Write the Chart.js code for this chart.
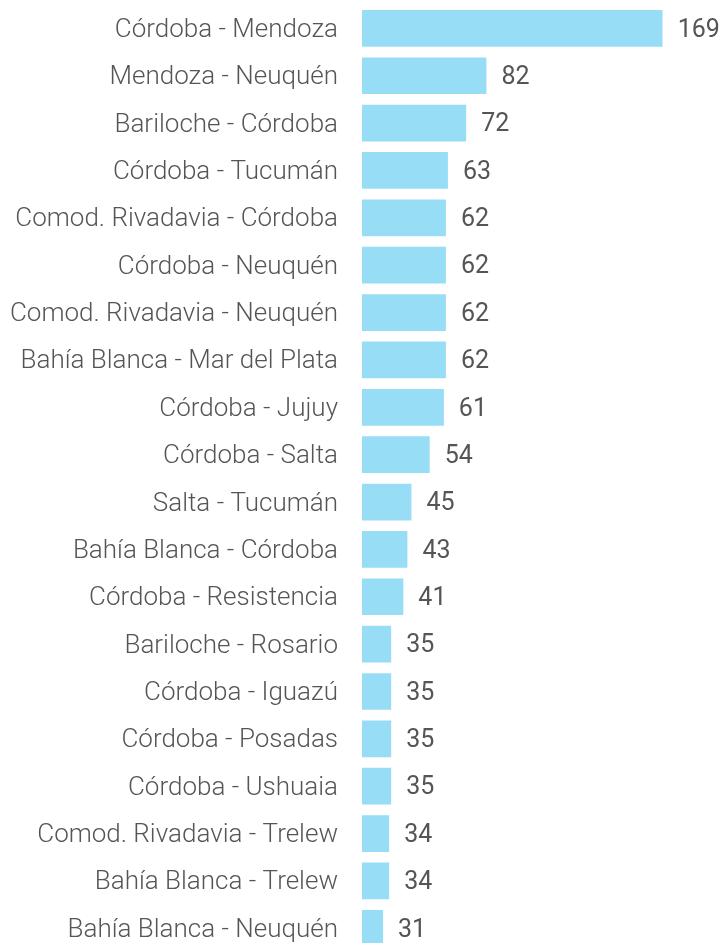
<!DOCTYPE html>
<html>
<head>
<meta charset="utf-8">
<script src="https://cdn.jsdelivr.net/npm/chart.js@4"></script>
<style>
  html, body { margin: 0; padding: 0; background: #fff; overflow: hidden; }
  #wrap { position: relative; width: 722px; height: 952px; }
</style>
</head>
<body>
<div id="wrap"><canvas id="routesChart"></canvas></div>
<script>
// Routes and counts
const routes = [
  'Córdoba - Mendoza', 'Mendoza - Neuquén', 'Bariloche - Córdoba', 'Córdoba - Tucumán',
  'Comod. Rivadavia - Córdoba', 'Córdoba - Neuquén', 'Comod. Rivadavia - Neuquén',
  'Bahía Blanca - Mar del Plata', 'Córdoba - Jujuy', 'Córdoba - Salta', 'Salta - Tucumán',
  'Bahía Blanca - Córdoba', 'Córdoba - Resistencia', 'Bariloche - Rosario', 'Córdoba - Iguazú',
  'Córdoba - Posadas', 'Córdoba - Ushuaia', 'Comod. Rivadavia - Trelew', 'Bahía Blanca - Trelew',
  'Bahía Blanca - Neuquén'
];
const counts = [169, 82, 72, 63, 62, 62, 62, 62, 61, 54, 45, 43, 41, 35, 35, 35, 35, 34, 34, 31];

// draws the number just after the end of each bar
const valueLabels = {
  id: 'valueLabels',
  afterDatasetsDraw(chart) {
    const ctx = chart.ctx;
    const meta = chart.getDatasetMeta(0);
    ctx.save();
    ctx.font = '400 25px Roboto';
    ctx.fillStyle = '#555555';
    ctx.textAlign = 'left';
    ctx.textBaseline = 'middle';
    meta.data.forEach((bar, i) => {
      ctx.fillText(String(counts[i]), bar.x + 15, bar.y + 2);
    });
    ctx.restore();
  }
};

window.addEventListener('DOMContentLoaded', () => {
  const ctx = document.getElementById('routesChart').getContext('2d');
  new Chart(ctx, {
    type: 'bar',
    data: {
      labels: routes,
      datasets: [{
        data: counts,
        backgroundColor: '#97ddf6',
        borderWidth: 0,
        categoryPercentage: 1,
        barPercentage: 0.775
      }]
    },
    options: {
      indexAxis: 'y',
      responsive: true,
      maintainAspectRatio: false,
      animation: false,
      layout: { padding: { top: 4.7, right: 59.3, bottom: 0, left: 0 } },
      plugins: {
        legend: { display: false },
        tooltip: { enabled: false }
      },
      scales: {
        x: {
          display: false,
          min: 20.6,
          max: 169
        },
        y: {
          grid: { display: false },
          border: { display: false },
          afterFit(scale) {
            scale.width = 362;
            scale.paddingTop = 0;
            scale.paddingBottom = 0;
          },
          ticks: {
            padding: 16,
            labelOffset: 2,
            color: '#555555',
            font: { family: 'Roboto', size: 26, weight: '300' }
          }
        }
      }
    },
    plugins: [valueLabels]
  });
});
</script>
</body>
</html>
